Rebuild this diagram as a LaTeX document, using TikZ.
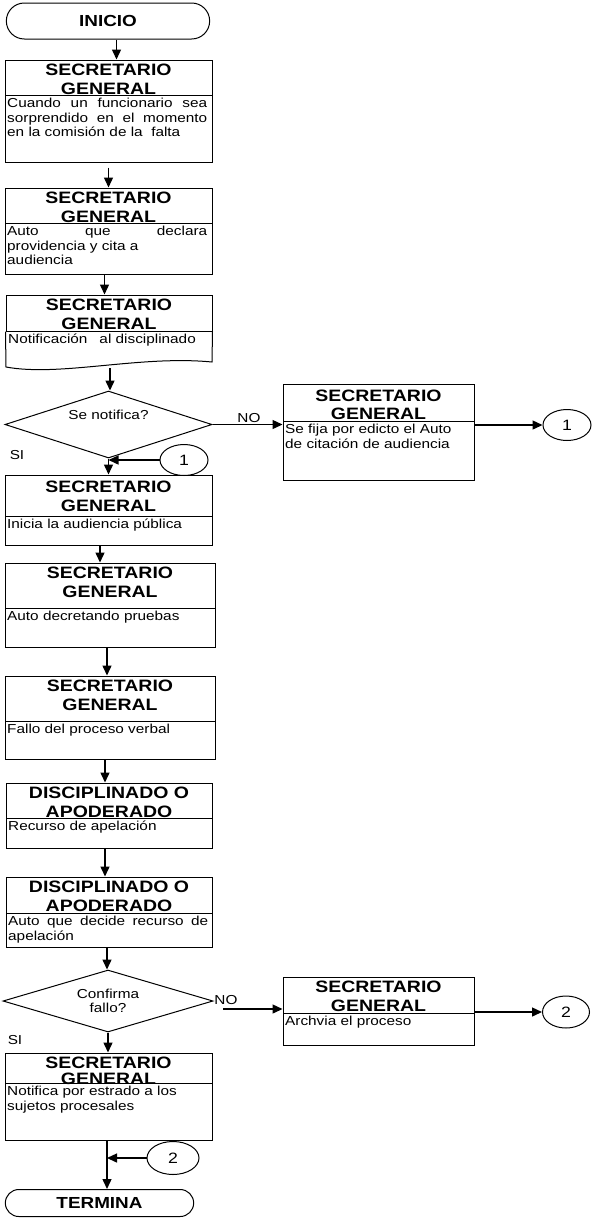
\documentclass[tikz,border=0pt]{standalone}
\usepackage{fontspec}
\setmainfont{Liberation Sans}[FakeStretch=1.18]
\usetikzlibrary{arrows.meta}
\usetikzlibrary{positioning}
\usetikzlibrary{shapes.geometric}
\usetikzlibrary{shapes.misc}

\begin{document}
\begin{tikzpicture}
    [x=1pt, y=-1pt,
    caja/.style={draw, line width=1pt, inner sep=0pt, minimum width=207pt},
    cab/.style={draw, line width=1pt, inner sep=0pt, minimum width=207pt},
    cabtexto/.style={inner sep=0pt, align=center, font=\bfseries\fontsize{16.5}{18.5}\selectfont},
    cuerpo/.style={inner sep=2.5pt, text width=200pt, align=justify, font=\fontsize{13}{14.5}\selectfont},
    term/.style={draw, rounded rectangle, line width=1pt, minimum width=210pt, minimum height=36pt,
      font=\bfseries\fontsize{16}{16}\selectfont},
    dec/.style={draw, diamond, aspect=3.2, line width=1pt, inner sep=0pt, minimum width=207pt,
      minimum height=67pt, align=center, font=\fontsize{13}{14.5}\selectfont},
    conec/.style={draw, ellipse, line width=1pt, inner sep=0pt, minimum width=48pt, minimum height=31pt,
      font=\fontsize{15}{15}\selectfont},
    etiq/.style={inner sep=0pt, font=\fontsize{13}{13}\selectfont},
    flecha/.style={-{Triangle[length=10pt, width=9pt]}, line width=1.4pt}]
  \useasboundingbox (0,0) rectangle (593,1219);

  % inicio
  \node [term] (ini) at (108,21) {INICIO};

  \node [caja, minimum height=102pt] (sg1) at (108.5,111) {};
  \node [cab, minimum height=35pt, below=0pt of sg1.north] (sg1h) {};
  \node [cabtexto, below=4.5pt of sg1h.north] (sg1c) {SECRETARIO\\GENERAL};
  \node [cuerpo, below right=0pt of sg1h.south west] (sg1t)
    {Cuando un funcionario sea\linebreak sorprendido en el momento\linebreak en la comisi\'on de la\ \ falta};

  \node [caja, minimum height=86pt] (sg2) at (108.5,231) {};
  \node [cab, minimum height=35pt, below=0pt of sg2.north] (sg2h) {};
  \node [cabtexto, below=4.5pt of sg2h.north] (sg2c) {SECRETARIO\\GENERAL};
  \node [cuerpo, below right=0pt of sg2h.south west] (sg2t)
    {Auto que declara\linebreak providencia y cita a\\ audiencia};

  % documento con borde ondulado
  \node [cab, minimum width=206pt, minimum height=36pt] (sg3h) at (109,313) {};
  \node [cabtexto, below=4.5pt of sg3h.north] (sg3c) {SECRETARIO\\GENERAL};
  \node [cuerpo, below right=0pt of sg3h.south west] (sg3t) {Notificaci\'on\hspace{12pt}al disciplinado};
  \draw [line width=1pt] (sg3h.south west) -- (6,367) .. controls (60,377) and (140,355) .. (212,362)
    -- (sg3h.south east);
  \coordinate (w3) at (110,368);

  \node [dec] (d1) at (108.5,424.5) {};
  \node [etiq] (d1t) at ([yshift=9.5pt]d1.center) {Se notifica?};
  \node [etiq] (no1) at (249,418) {NO};
  \node [etiq] (si1) at (17,455) {SI};

  \node [caja, minimum width=191pt, minimum height=96pt] (rb1) at (378.5,432) {};
  \node [cab, minimum width=191pt, minimum height=37pt, below=0pt of rb1.north] (rb1h) {};
  \node [cabtexto, below=6pt of rb1h.north] (rb1c) {SECRETARIO\\GENERAL};
  \node [cuerpo, text width=184pt, below right=0pt of rb1h.south west] (rb1t)
    {Se fija por edicto el Auto\\ de citaci\'on de audiencia};

  \node [conec] (c1r) at (567,425) {1};
  \node [conec] (c1l) at (184,460) {1};

  \node [caja, minimum height=70pt] (sg4) at (108.5,510) {};
  \node [cab, minimum height=41pt, below=0pt of sg4.north] (sg4h) {};
  \node [cabtexto, below=6.5pt of sg4h.north] (sg4c) {SECRETARIO\\GENERAL};
  \node [cuerpo, below right=0pt of sg4h.south west] (sg4t) {Inicia la audiencia p\'ublica};

  \node [caja, minimum width=210pt, minimum height=84pt] (sg5) at (110,605) {};
  \node [cab, minimum width=210pt, minimum height=45pt, below=0pt of sg5.north] (sg5h) {};
  \node [cabtexto, below=4.5pt of sg5h.north] (sg5c) {SECRETARIO\\GENERAL};
  \node [cuerpo, below right=0pt of sg5h.south west] (sg5t) {Auto decretando pruebas};

  \node [caja, minimum width=210pt, minimum height=83pt] (sg6) at (110,717.5) {};
  \node [cab, minimum width=210pt, minimum height=45pt, below=0pt of sg6.north] (sg6h) {};
  \node [cabtexto, below=4.5pt of sg6h.north] (sg6c) {SECRETARIO\\GENERAL};
  \node [cuerpo, below right=0pt of sg6h.south west] (sg6t) {Fallo del proceso verbal};

  \node [caja, minimum width=206pt, minimum height=65pt] (sg7) at (109,815.5) {};
  \node [cab, minimum width=206pt, minimum height=35pt, below=0pt of sg7.north] (sg7h) {};
  \node [cabtexto, below=4.5pt of sg7h.north] (sg7c) {DISCIPLINADO O\\APODERADO};
  \node [cuerpo, below right=0pt of sg7h.south west] (sg7t) {Recurso de apelaci\'on};

  \node [caja, minimum width=206pt, minimum height=70pt] (sg8) at (109,912) {};
  \node [cab, minimum width=206pt, minimum height=36pt, below=0pt of sg8.north] (sg8h) {};
  \node [cabtexto, below=4.5pt of sg8h.north] (sg8c) {DISCIPLINADO O\\APODERADO};
  \node [cuerpo, below right=0pt of sg8h.south west] (sg8t) {Auto que decide recurso de\linebreak apelaci\'on};

  \node [dec, minimum width=210pt, minimum height=62pt] (d2) at (108,1001) {Confirma\\fallo?};
  \node [etiq] (no2l) at (226,1000) {NO};
  \node [etiq] (si2) at (15,1040) {SI};
  \coordinate (no2) at (223,1009);

  \node [caja, minimum width=191pt, minimum height=68pt] (rb2) at (378.5,1011) {};
  \node [cab, minimum width=191pt, minimum height=36pt, below=0pt of rb2.north] (rb2h) {};
  \node [cabtexto, below=4.5pt of rb2h.north] (rb2c) {SECRETARIO\\GENERAL};
  \node [cuerpo, text width=184pt, below right=0pt of rb2h.south west] (rb2t) {Archvia el proceso};

  \node [conec, minimum width=47pt, minimum height=32pt] (c2r) at (566,1012) {2};

  \node [caja, minimum height=87pt] (sg9) at (108.5,1096.5) {};
  \node [cab, minimum height=30pt, below=0pt of sg9.north] (sg9h) {};
  \node [cabtexto, font=\bfseries\fontsize{16.5}{15.5}\selectfont, below=4.5pt of sg9h.north] (sg9c)
    {SECRETARIO\\GENERAL};
  \node [cuerpo, below right=0pt of sg9h.south west] (sg9t) {Notifica por estrado a los\\ sujetos procesales};

  \node [conec, minimum width=52pt, minimum height=33pt] (c2l) at (173,1158) {2};

  % fin
  \node [term, minimum width=195pt, minimum height=27pt] (fin) at (99.5,1203) {TERMINA};
  \coordinate (v9) at ([xshift=-1.5pt]sg9.south);

  % flechas
  \draw [flecha] ([xshift=8.5pt]ini.south) -- ([xshift=8.5pt]ini.south |- sg1.north);
  \draw [flecha, shorten <=5pt] (sg1.south) -- (sg2.north);
  \draw [flecha] ([xshift=-4pt]sg2.south) -- ([xshift=-4pt]sg2.south |- sg3h.north);
  \draw [flecha] (w3) -- (w3 |- d1.north);
  \draw [flecha] (d1.east) -- (d1.east -| rb1.west);
  \draw [flecha] (c1r.west -| rb1.east) -- (c1r.west);
  \draw [flecha] (d1.south) -- (d1.south |- sg4.north);
  \draw [flecha] (c1l.west) -- (c1l.west -| d1.south);
  \draw [flecha] ([xshift=-8.5pt]sg4.south) -- ([xshift=-8.5pt]sg4.south |- sg5.north);
  \draw [flecha] ([xshift=-3pt]sg5.south) -- ([xshift=-3pt]sg5.south |- sg6.north);
  \draw [flecha] ([xshift=-5pt]sg6.south) -- ([xshift=-5pt]sg6.south |- sg7.north);
  \draw [flecha] ([xshift=-4pt]sg7.south) -- ([xshift=-4pt]sg7.south |- sg8.north);
  \draw [flecha] ([xshift=-2pt]sg8.south) -- ([xshift=-2pt]sg8.south |- d2.north);
  \draw [flecha] (no2) -- (no2 -| rb2.west);
  \draw [flecha] (c2r.west -| rb2.east) -- (c2r.west);
  \draw [flecha] (d2.south) -- (d2.south |- sg9.north);
  \draw [flecha] (v9) -- (v9 |- fin.north);
  \draw [flecha] (c2l.west) -- (c2l.west -| v9);
\end{tikzpicture}
\end{document}
